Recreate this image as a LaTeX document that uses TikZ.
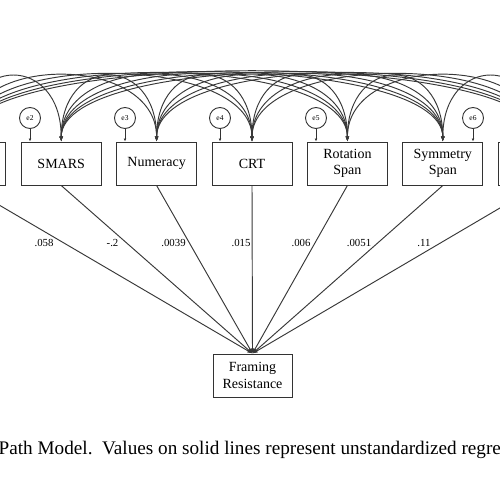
\documentclass[tikz,border=0pt]{standalone}
\usepackage{fontspec}
\setmainfont{Liberation Serif}
\usetikzlibrary{arrows.meta}
\begin{document}
\begin{tikzpicture}[x=1pt,y=-1pt,
  varbox/.style={draw=black!80, line width=1pt, minimum width=80pt, minimum height=43pt, inner sep=0pt, align=center, font=\fontsize{14}{16.5}\selectfont},
  errc/.style={draw=black!80, circle, line width=0.9pt, minimum size=21pt, inner sep=0pt, font=\fontsize{7.5}{8}\selectfont},
  cov/.style={draw=black!78, line width=0.95pt, {Latex[length=5pt,width=3.8pt]}-{Latex[length=5pt,width=3.8pt]}},
  regpath/.style={draw=black!78, line width=0.95pt, -{Latex[length=5pt,width=3.8pt]}},
  errarrow/.style={draw=black!80, line width=0.8pt, -{Latex[length=3pt,width=2.8pt]}},
  coef/.style={font=\fontsize{10.8}{12}\selectfont, inner sep=0pt},
  captext/.style={font=\fontsize{19.2}{22}\selectfont, inner sep=0pt, anchor=base west}]
\useasboundingbox (0,0) rectangle (500,500);
\clip (0,0) rectangle (500,500);

% observed variables
\node[varbox] (v0) at (-34.2,163.5) {};
\node[varbox] (v1) at (61.2,163.5) {SMARS};
\node[varbox] (v2) at (156.6,163.5) {Numeracy};
\node[varbox] (v3) at (252,163.5) {CRT};
\node[varbox] (v4) at (347.4,163.5) {Rotation\\Span};
\node[varbox] (v5) at (442.8,163.5) {Symmetry\\Span};
\node[varbox] (v6) at (538.2,163.5) {};

% outcome
\node[varbox, minimum width=79pt] (FR) at (252.5,375.5) {Framing\\Resistance};

% covariances
\foreach \i in {0,...,5}{
  \pgfmathtruncatemacro\s{\i+1}
  \foreach \j in {\s,...,6}{
    \pgfmathsetmacro\h{86+0.012*95.4*(\j-\i)}
    \draw[cov] (v\i.north) .. controls +(0,-\h) and +(0,-\h) .. (v\j.north);
  }
}

% error terms
\node[errc] (e2) at (30,118) {e2};
\node[errc] (e3) at (125,118) {e3};
\node[errc] (e4) at (220,118) {e4};
\node[errc] (e5) at (316,118) {e5};
\node[errc] (e6) at (473,118) {e6};
\draw[errarrow] (e2) -- (e2 |- v1.north);
\draw[errarrow] (e3) -- (e3 |- v2.north);
\draw[errarrow] (e4) -- (e4 |- v3.north);
\draw[errarrow] (e5) -- (e5 |- v4.north);
\draw[errarrow] (e6) -- (e6 |- v5.north);

% regressions
\foreach \i in {0,...,6}{
  \draw[regpath] (v\i.south) -- (FR.north);
}

% coefficients
\node[coef] (c0) at (44,243) {.058};
\node[coef] (c1) at (112.5,243) {-.2};
\node[coef] (c2) at (173.5,243) {.0039};
\node[coef] (c3) at (241,243) {.015};
\node[coef] (c4) at (301,243) {.006};
\node[coef] (c5) at (359,243) {.0051};
\node[coef] (c6) at (424,243) {.11};

% caption
\node[captext] (cap) at (-1.5,454) {Path Model.\ \ Values on solid lines represent unstandardized regre};
\end{tikzpicture}
\end{document}
